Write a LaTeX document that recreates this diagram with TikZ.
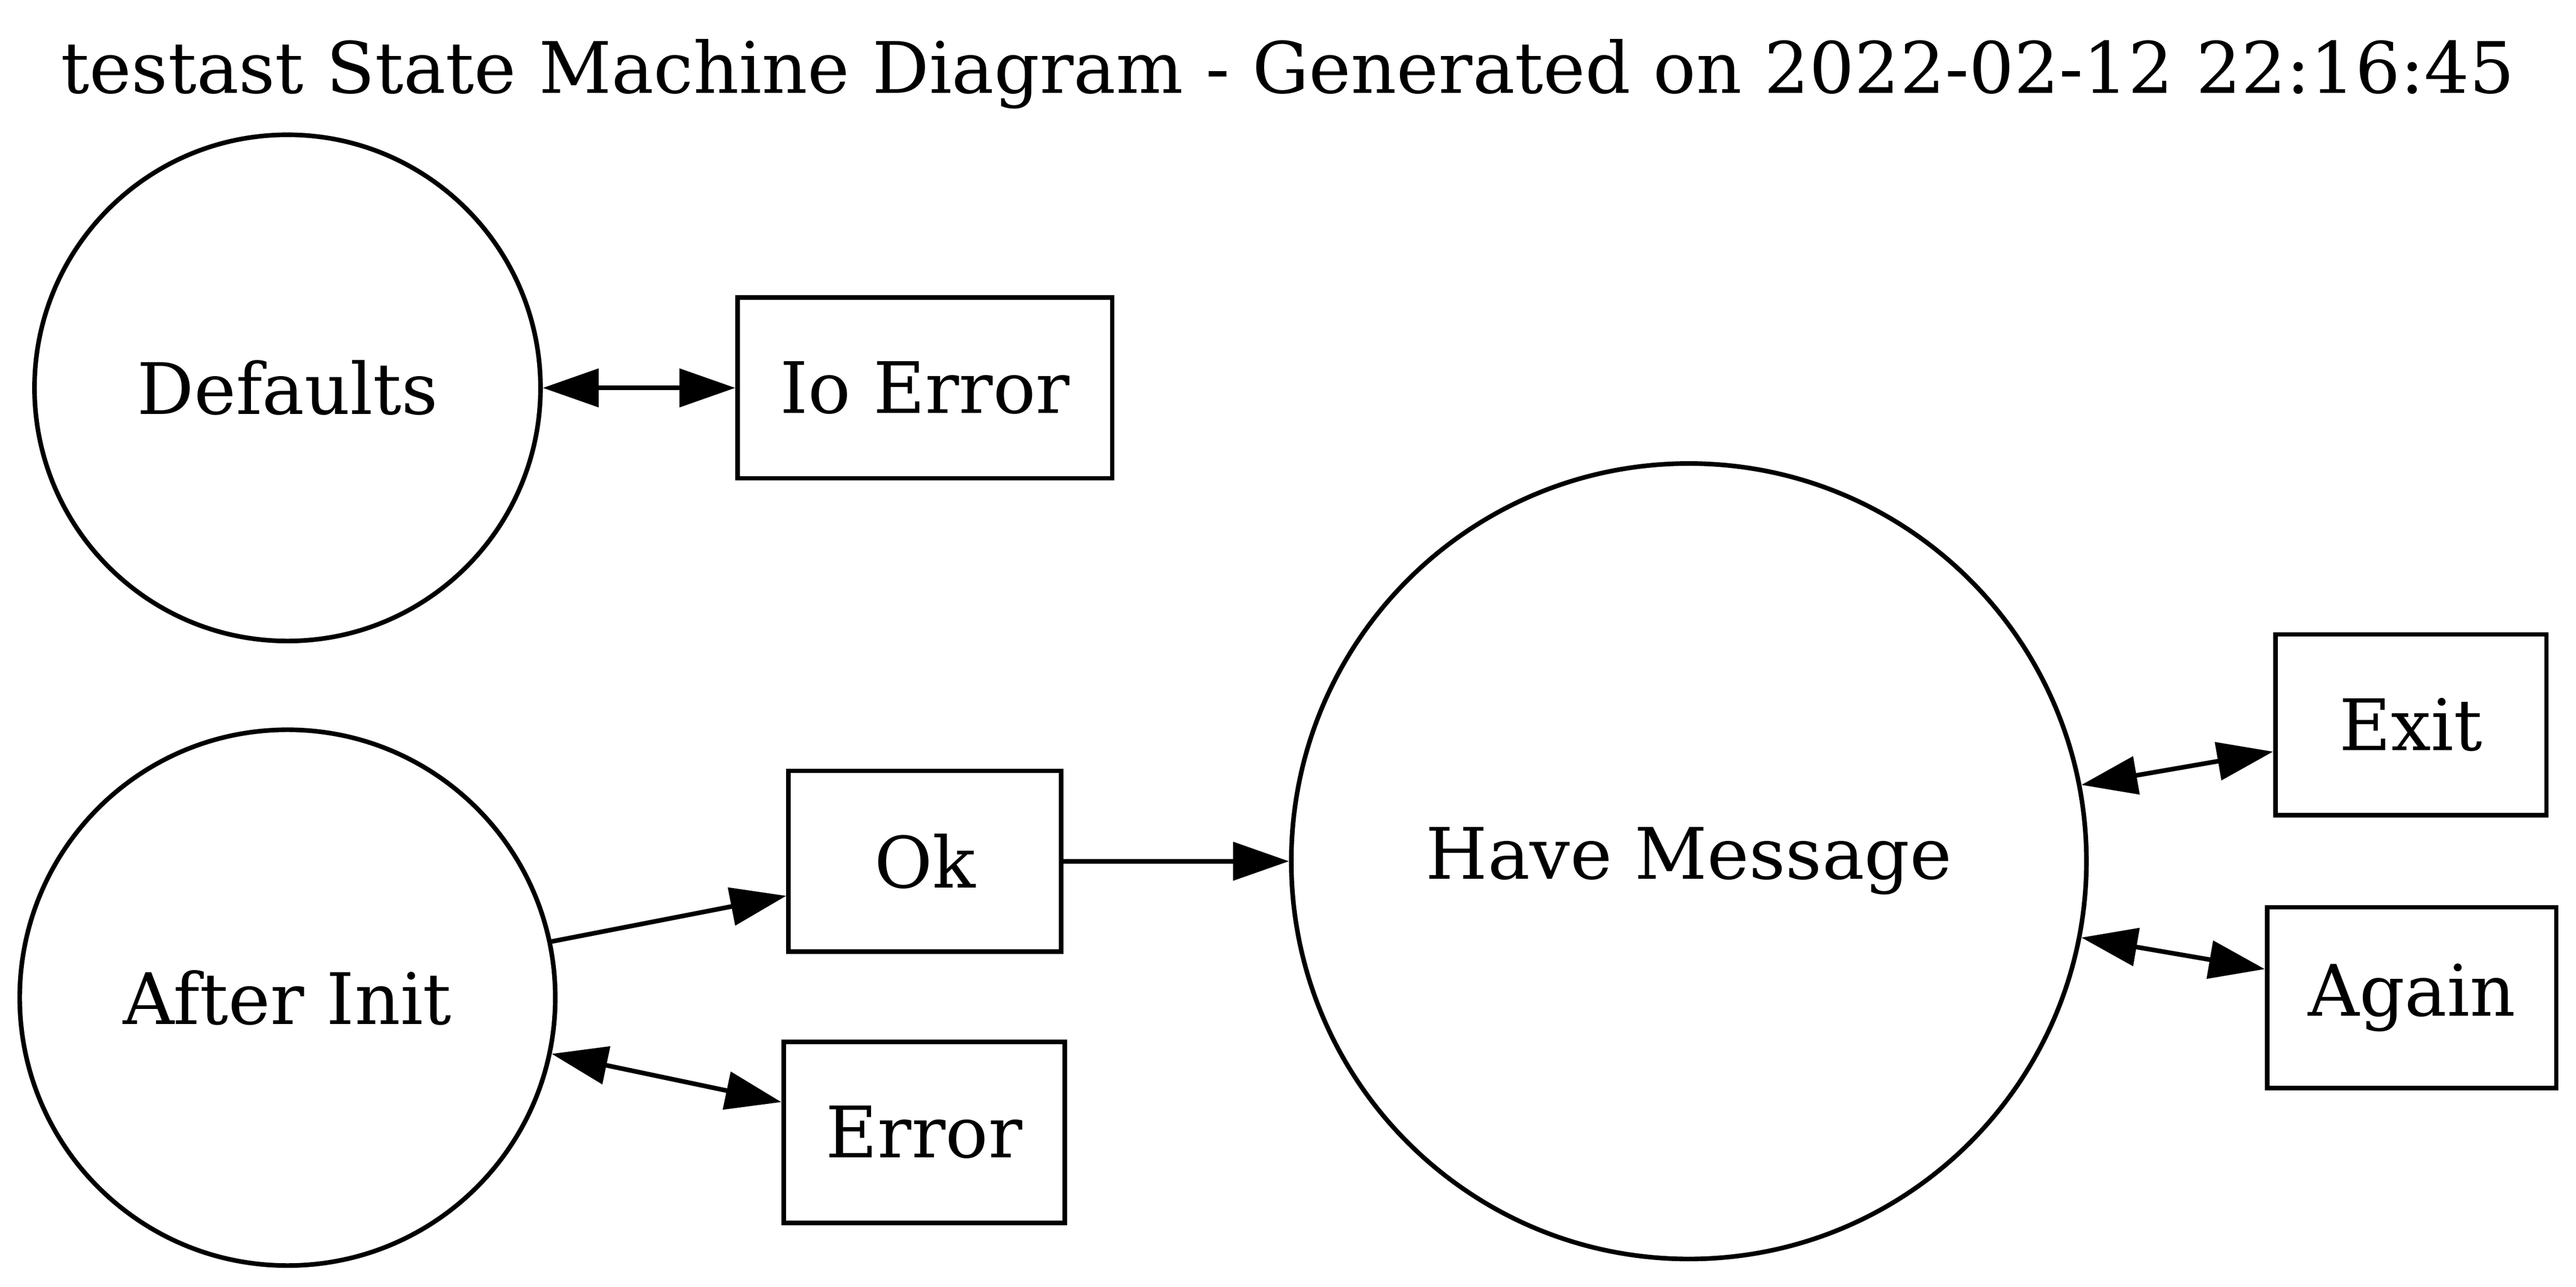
\documentclass[tikz,border=0pt]{standalone}
\usepackage{fontspec}
\setmainfont{DejaVu Serif}
\usetikzlibrary{arrows.meta,shapes.geometric}
\tikzstyle{state} = [circle, draw, line width=1.4pt, text centered, inner sep=0pt]
\tikzstyle{event} = [rectangle, draw, line width=1.4pt, text centered, minimum height=55pt, inner sep=0pt]
\tikzstyle{connector} = [line width=1.4pt, -{Triangle[length=17pt, width=11.5pt]}]
\tikzstyle{biconnector} = [line width=1.4pt, {Triangle[length=17pt, width=11.5pt]}-{Triangle[length=17pt, width=11.5pt]}]

\begin{document}
\begin{tikzpicture}[x=0.5pt, y=-0.5pt, font=\fontsize{21.6}{26}\selectfont]
        \useasboundingbox (0,0) rectangle (1568,783);
        \node (title) at (784,45) {testast State Machine Diagram - Generated on 2022-02-12 22:16:45};
        \node (defaults) [state, minimum size=154pt] at (175,236) {Defaults};
        \node (io-error) [event, minimum width=114pt] at (563,236) {Io Error};
        \node (after-init) [state, minimum size=163pt] at (175,607) {After Init};
        \node (ok) [event, minimum width=83pt] at (563,524) {Ok};
        \node (error) [event, minimum width=85.5pt] at (562.5,689) {Error};
        \node (have-message) [state, minimum size=242pt] at (1028,524) {Have Message};
        \node (exit) [event, minimum width=82.5pt] at (1467.5,441) {Exit};
        \node (again) [event, minimum width=88pt] at (1468,607) {Again};
        \draw [biconnector] (defaults.east) -- (io-error.west);
        \draw [connector] (after-init.12) -- (ok.194);
        \draw [biconnector] (after-init.-12) -- (error.168);
        \draw [connector] (ok.east) -- (have-message.west);
        \draw [biconnector] (have-message.11) -- (exit.191);
        \draw [biconnector] (have-message.-11) -- (again.169);
    \end{tikzpicture}
\end{document}
